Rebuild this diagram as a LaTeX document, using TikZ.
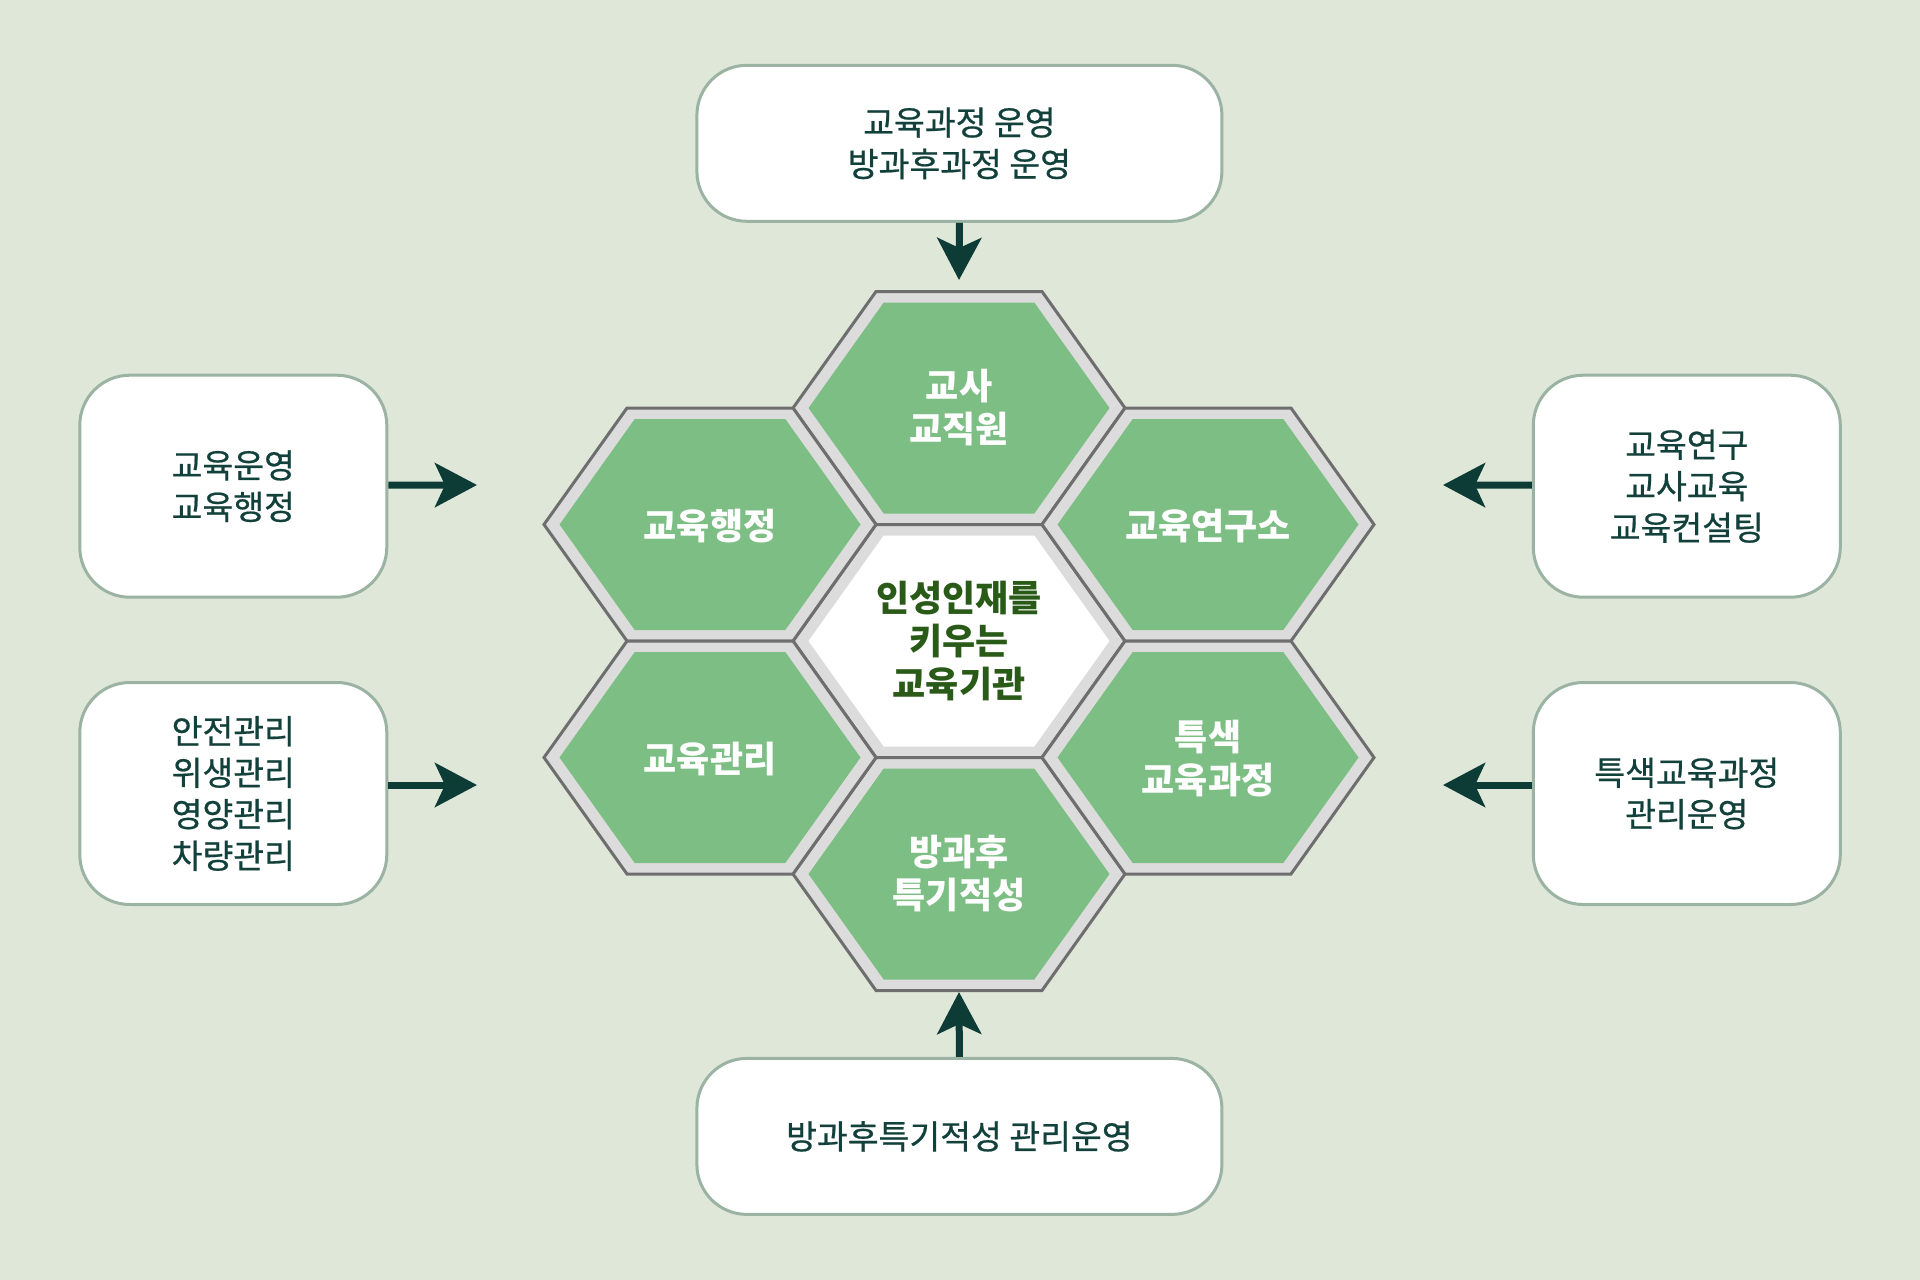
\documentclass[tikz,border=0pt]{standalone}
\usepackage{fontspec}
\setmainfont{Noto Sans CJK KR}
\newfontfamily\boxfont{Noto Sans CJK KR}[FakeBold=0.6]
\usetikzlibrary{arrows.meta}
\definecolor{bg}{HTML}{DFE7D9}
\definecolor{boxline}{HTML}{9BB3A2}
\definecolor{ink}{HTML}{12403B}
\definecolor{arrowc}{HTML}{0D3B36}
\definecolor{hexgreen}{HTML}{7DBE84}
\definecolor{hexband}{HTML}{DCDCDC}
\definecolor{hexline}{HTML}{6E6E6E}
\definecolor{coretext}{HTML}{2A5A18}
\tikzset{
  sidebox/.style={draw=boxline, line width=3pt, fill=white, rounded corners=50pt,
    align=center, text=ink, font=\boxfont\fontsize{33.5}{41.5}\selectfont, inner sep=0pt},
  hexlabel/.style={align=center, text=white, font=\bfseries\fontsize{36}{43}\selectfont},
  corelabel/.style={hexlabel, text=coretext},
  conn/.style={draw=arrowc, line width=7pt, -{Stealth[length=42pt,width=44pt,inset=10pt]}},
  hexouter/.style={fill=hexband, draw=hexline, line width=3pt, line join=miter},
}
\newcommand\hexcell[3]{%
  \begin{scope}[shift={(#1,#2)}]
    \path[hexouter] (-166,0) -- (-83,-116.5) -- (83,-116.5) -- (166,0) -- (83,116.5) -- (-83,116.5) -- cycle;
    \fill[#3] (-150.5,0) -- (-75.3,-105.5) -- (75.3,-105.5) -- (150.5,0) -- (75.3,105.5) -- (-75.3,105.5) -- cycle;
  \end{scope}}
\begin{document}
\begin{tikzpicture}[x=1pt,y=-1pt]
\fill[bg] (0,0) rectangle (1920,1280);
\useasboundingbox (0,0) rectangle (1920,1280);

% hexagon cells
\hexcell{959}{408}{hexgreen}
\hexcell{959}{641}{white}
\hexcell{959}{874}{hexgreen}
\hexcell{710}{524.5}{hexgreen}
\hexcell{710}{757.5}{hexgreen}
\hexcell{1208}{524.5}{hexgreen}
\hexcell{1208}{757.5}{hexgreen}

% hexagon labels
\node[hexlabel] (hTop) at (959,408) {교사\\교직원};
\node[corelabel] (hCore) at (959,641) {인성인재를\\키우는\\교육기관};
\node[hexlabel] (hBot) at (959,874) {방과후\\특기적성};
\node[hexlabel] (hLU) at (710,526) {교육행정};
\node[hexlabel] (hLL) at (710,759) {교육관리};
\node[hexlabel] (hRU) at (1208,526) {교육연구소};
\node[hexlabel] (hRL) at (1208,759) {특색\\교육과정};

% outer boxes
\node[sidebox, minimum width=525pt, minimum height=156pt] (bTop) at (959.4,143.3) {교육과정 운영\\방과후과정 운영};
\node[sidebox, minimum width=525pt, minimum height=156pt] (bBot) at (959.4,1136.4) {방과후특기적성 관리운영};
\node[sidebox, minimum width=307pt, minimum height=222pt] (bLU) at (233.3,486.2) {교육운영\\교육행정};
\node[sidebox, minimum width=307pt, minimum height=222pt] (bLL) at (233.3,793.5) {안전관리\\위생관리\\영양관리\\차량관리};
\node[sidebox, minimum width=307pt, minimum height=222pt] (bRU) at (1686.8,486.2) {교육연구\\교사교육\\교육컨설팅};
\node[sidebox, minimum width=307pt, minimum height=222pt] (bRL) at (1686.8,793.5) {특색교육과정\\관리운영};

% arrow tips
\coordinate (tTop) at (959,280);
\coordinate (tBot) at (959,992);
\coordinate (tLU) at (477,485);
\coordinate (tLL) at (477,785);
\coordinate (tRU) at (1443,485);
\coordinate (tRL) at (1443,785);

\draw[conn] (bTop.south) -- (tTop);
\draw[conn] (bBot.north) -- (tBot);
\draw[conn] ([yshift=1pt]bLU.east) -- (tLU);
\draw[conn] ([yshift=8.5pt]bLL.east) -- (tLL);
\draw[conn] ([yshift=1pt]bRU.west) -- (tRU);
\draw[conn] ([yshift=8.5pt]bRL.west) -- (tRL);
\end{tikzpicture}
\end{document}
